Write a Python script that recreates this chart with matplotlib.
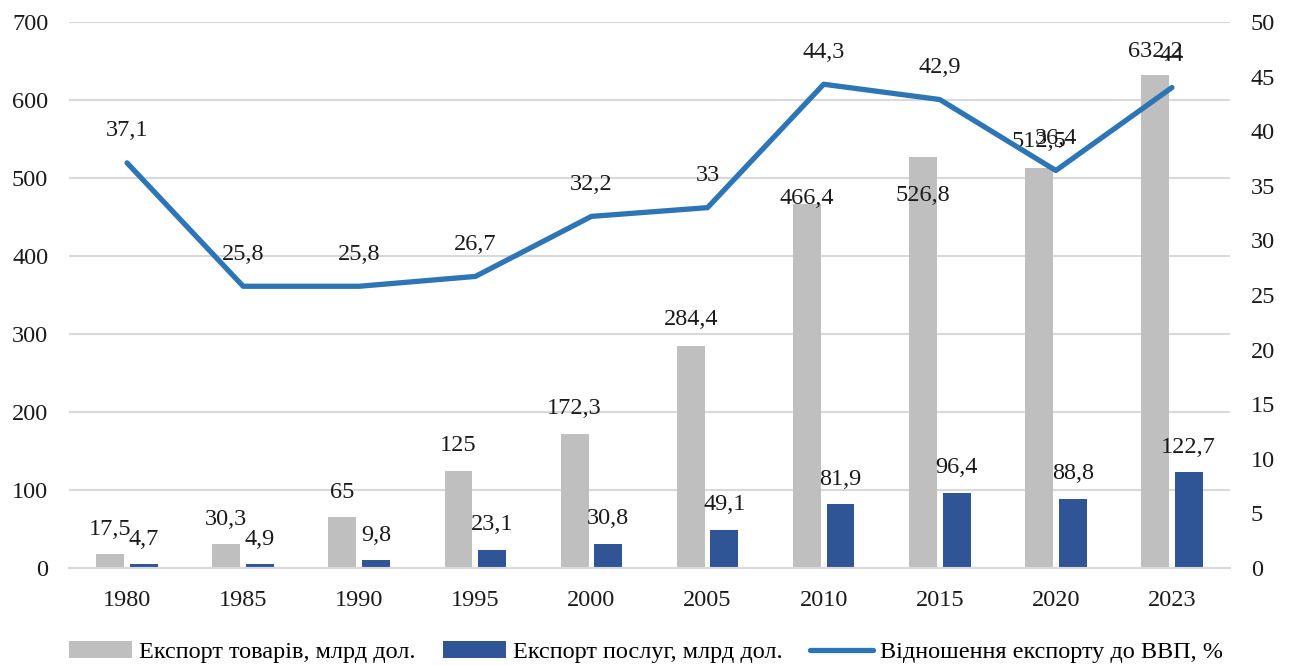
import numpy as np
import matplotlib.pyplot as plt

# data
years = ['1980', '1985', '1990', '1995', '2000', '2005', '2010', '2015', '2020', '2023']
goods = [17.5, 30.3, 65, 125, 172.3, 284.4, 466.4, 526.8, 512.5, 632.2]
services = [4.7, 4.9, 9.8, 23.1, 30.8, 49.1, 81.9, 96.4, 88.8, 122.7]
ratio = [37.1, 25.8, 25.8, 26.7, 32.2, 33, 44.3, 42.9, 36.4, 44]

# label shifts (points) for the goods labels, as placed in the source chart
goods_shift = [18, 18, 18, 18, 18, 19, 4, -28, 19, 17]

def fmt(v):
    return ('%g' % v).replace('.', ',')

plt.rcParams['font.family'] = ['Liberation Serif', 'DejaVu Serif']
FS = 17.5

fig = plt.figure(figsize=(12.92, 6.65), dpi=100)
ax = fig.add_axes([69 / 1292, 1 - 568 / 665, 1161 / 1292, 546 / 665])
ax2 = ax.twinx()

x = np.arange(len(years))
w = 0.24
off = 0.145

b1 = ax.bar(x - off, goods, w, color='#bfbfbf', label='Експорт товарів, млрд дол.', zorder=2)
b2 = ax.bar(x + off, services, w, color='#2f5597', label='Експорт послуг, млрд дол.', zorder=2)

for xi, v, s in zip(x, goods, goods_shift):
    ax.annotate(fmt(v), (xi - off, v), xytext=(0, s), textcoords='offset points',
                ha='center', va='center', fontsize=FS, color='#1a1a1a', zorder=4)
for xi, v in zip(x, services):
    ax.annotate(fmt(v), (xi + off, v), xytext=(0, 18), textcoords='offset points',
                ha='center', va='center', fontsize=FS, color='#1a1a1a', zorder=4)

ln, = ax2.plot(x, ratio, color='#2e75b6', lw=3.8, solid_capstyle='round',
               label='Відношення експорту до ВВП, %', zorder=3)
for xi, v in zip(x, ratio):
    ax2.annotate(fmt(v), (xi, v), xytext=(0, 23), textcoords='offset points',
                 ha='center', va='center', fontsize=FS, color='#1a1a1a')

ax.set_ylim(0, 700)
ax.set_yticks(range(0, 701, 100))
ax2.set_ylim(0, 50)
ax2.set_yticks(range(0, 51, 5))
ax.set_xlim(-0.5, len(years) - 0.5)
ax.set_xticks(x)
ax.set_xticklabels(years)

ax.grid(axis='y', color='#d9d9d9', lw=1.5, zorder=0)
ax.set_axisbelow(True)
for a in (ax, ax2):
    for s in a.spines.values():
        s.set_visible(False)
    a.tick_params(length=0, labelsize=FS, colors='#1a1a1a')
ax.spines['bottom'].set_visible(True)
ax.spines['bottom'].set_color('#d9d9d9')
ax.spines['bottom'].set_linewidth(1.5)
ax.tick_params(axis='x', pad=16)
ax.tick_params(axis='y', pad=15)
ax2.tick_params(axis='y', pad=15)

fig.legend(handles=[b1, b2, ln], loc='lower center', bbox_to_anchor=(0.5, -0.03), ncol=3,
           frameon=False, fontsize=FS, handlelength=2.6, handleheight=0.7,
           columnspacing=1.1, handletextpad=0.3)

fig.savefig('out.png', dpi=100)
